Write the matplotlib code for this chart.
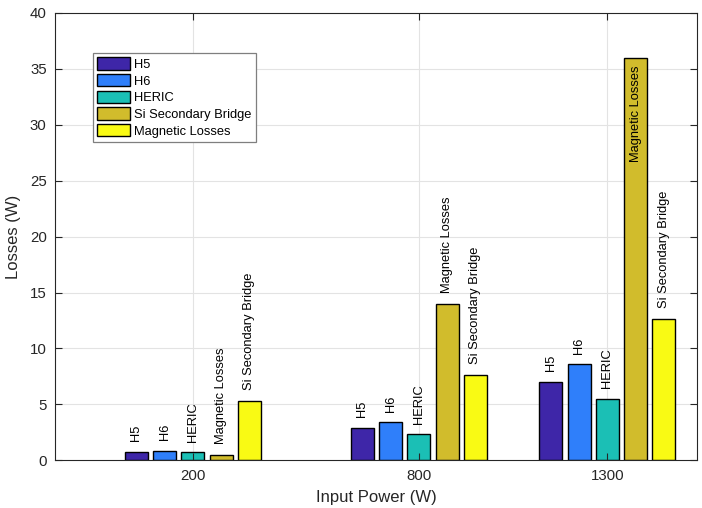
import numpy as np
import matplotlib
matplotlib.use('Agg')
from matplotlib import pyplot as plt

# --- data
power = [200, 800, 1300]                       # input power (W)
series = ['H5', 'H6', 'HERIC', 'Si Secondary Bridge', 'Magnetic Losses']
# label printed above each bar (the original swaps the last two)
bar_text = ['H5', 'H6', 'HERIC', 'Magnetic Losses', 'Si Secondary Bridge']
h5 = [0.78, 2.88, 7.04]
h6 = [0.83, 3.41, 8.59]
heric = [0.71, 2.34, 5.49]
si_bridge = [0.50, 14.0, 36.0]
mag_loss = [5.33, 7.63, 12.66]
losses = [h5, h6, heric, si_bridge, mag_loss]

colors = ['#3E26A8', '#2F7FFA', '#1BBFB5', '#D1BC2C', '#F9FA14']

fs_lab = 9.3
plt.rcParams['font.family'] = ['Liberation Sans', 'DejaVu Sans']

fig = plt.figure(figsize=(7.02, 5.08), dpi=100)
ax = fig.add_axes([55/702, 1 - 460.3/508, 642/702, 447.3/508])

pitch, width = 75., 61.
y_max = 40
for iS, vals in enumerate(losses):
    xs = np.array(power) + (iS - 2) * pitch
    ax.bar(xs, vals, width=width, color=colors[iS], edgecolor='k',
           linewidth=1.0, label=series[iS], zorder=1)
    for x, v in zip(xs, vals):
        if v + 10 > y_max:   # no room above -> write inside the bar
            ax.text(x, v - 0.7, bar_text[iS], rotation=90, ha='center',
                    va='top', fontsize=fs_lab, color='k')
        else:
            ax.text(x, v + 0.95, bar_text[iS], rotation=90, ha='center',
                    va='bottom', fontsize=fs_lab, color='k')

ax.set_xlim(-166, 1538)
ax.set_ylim(0, y_max)
ax.set_xticks(power)
ax.set_xticklabels([str(p) for p in power])
ax.set_yticks(np.arange(0, 41, 5))

# light grid behind the bars
for yv in np.arange(5, 40, 5):
    ax.axhline(yv, color='#E3E3E3', lw=0.8, zorder=0)
for xv in power:
    ax.axvline(xv, color='#E3E3E3', lw=0.8, zorder=0)

ax.tick_params(direction='in', length=5, width=0.8, top=True, right=True,
               labelsize=10.8, colors='#262626', pad=6)
for sp in ax.spines.values():
    sp.set_color('#262626')
    sp.set_linewidth(0.8)

ax.set_xlabel('Input Power (W)', fontsize=12, color='#262626', labelpad=5)
ax.set_ylabel('Losses (W)', fontsize=12, color='#262626', labelpad=6)

leg = ax.legend(loc='upper left', bbox_to_anchor=(0.0587, 0.911),
                borderaxespad=0, fontsize=9.3, fancybox=False,
                framealpha=1, edgecolor='#7F7F7F', handlelength=2.56,
                handleheight=1.1, labelspacing=0.24, handletextpad=0.26,
                borderpad=0.35)
leg.get_frame().set_linewidth(0.9)

plt.savefig('out.png', dpi=100)
